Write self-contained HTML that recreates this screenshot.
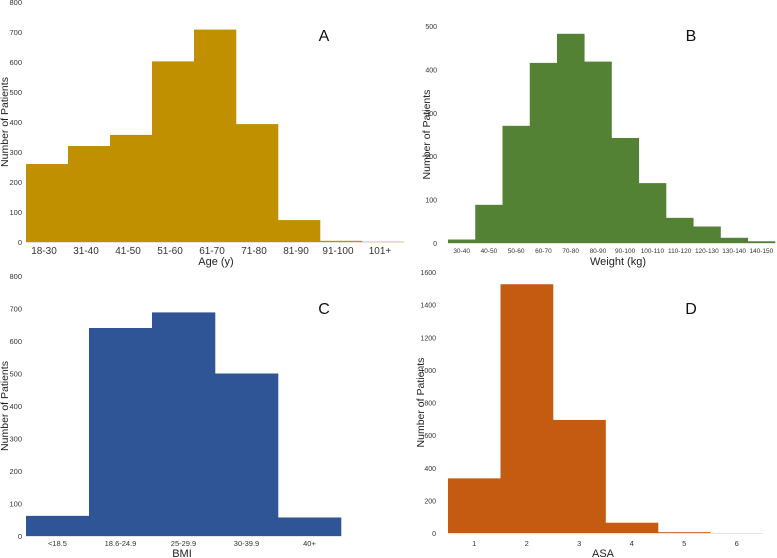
<!DOCTYPE html>
<html><head><meta charset="utf-8">
<style>
html,body{margin:0;padding:0;background:#fff;}
svg{display:block;font-family:"Liberation Sans",Arial,sans-serif;}
</style></head>
<body>
<svg id="chart" width="777" height="558" viewBox="0 0 777 558" xmlns="http://www.w3.org/2000/svg"></svg>
<script>
// Panel A: Age
const ageCats = ["18-30","31-40","41-50","51-60","61-70","71-80","81-90","91-100","101+"];
const ageVals = [260,320,357,602,708,393,73,4,1];
const ageTicks = [0,100,200,300,400,500,600,700,800];
// Panel B: Weight
const wtCats = ["30-40","40-50","50-60","60-70","70-80","80-90","90-100","100-110","110-120","120-130","130-140","140-150"];
const wtVals = [8,88,270,415,482,418,242,138,58,38,12,4];
const wtTicks = [0,100,200,300,400,500];
// Panel C: BMI
const bmiCats = ["<18.5","18.6-24.9","25-29.9","30-39.9","40+"];
const bmiVals = [62,640,688,500,57];
const bmiTicks = [0,100,200,300,400,500,600,700,800];
// Panel D: ASA
const asaCats = ["1","2","3","4","5","6"];
const asaVals = [335,1525,693,63,5,0];
const asaTicks = [0,200,400,600,800,1000,1200,1400,1600];

const svg = document.getElementById('chart');
const NS = "http://www.w3.org/2000/svg";
function mk(tag, attrs, text){
  const e = document.createElementNS(NS, tag);
  for (const k in attrs) e.setAttribute(k, attrs[k]);
  if (text !== undefined) e.textContent = text;
  svg.appendChild(e);
  return e;
}

function panel(p){
  const yMax = p.ticks[p.ticks.length-1];
  const y = v => p.y0 - (v / yMax) * (p.y0 - p.yTop);
  const bw = (p.x1 - p.x0) / p.cats.length;
  const x = i => p.x0 + i * bw;
  const base = mk('line', {x1:p.x0, x2:p.x1, y1:p.y0+0.5, y2:p.y0+0.5, stroke:'#e4e4e4', 'stroke-width':1});
  
  
  p.ticks.forEach(t => {
    const tx = mk('text', {x:p.tickX, y:y(t)+3, 'text-anchor':'end', 'font-size':p.tickFs, fill:'#333'}, t);
    
    
  });
  p.vals.forEach((v, i) => {
    const r = mk('rect', {x:x(i), y:y(v), width:bw+0.3, height:p.y0 - y(v), fill:p.color});
    
    
  });
  p.cats.forEach((c, i) => {
    const tx = mk('text', {x:x(i) + bw/2 + (p.xOff||0), y:p.y0 + p.xLabDy, 'text-anchor':'middle', 'font-size':p.xFs, fill:'#333'}, c);
    
    
  });
  const xt = mk('text', {x:p.xTitleX, y:p.xTitleY, 'text-anchor':'middle', 'font-size':11, fill:'#222'}, p.xTitle);
  
  
  const cy = (p.y0 + p.yTop) / 2;
  const yt = mk('text', {x:p.yTitleX, y:cy, 'text-anchor':'middle', 'font-size':10.5, fill:'#222', transform:`rotate(-90 ${p.yTitleX} ${cy})`}, 'Number of Patients');
  
  
  const pl = mk('text', {x:p.letterX, y:p.letterY, 'text-anchor':'middle', 'font-size':16, fill:'#111'}, p.letter);
  
  
}

panel({key:'age', cats:ageCats, vals:ageVals, ticks:ageTicks, color:'#c09000',
  x0:26, x1:404, y0:242, yTop:2, tickX:22, tickFs:7.5, xFs:10, xLabDy:12, xOff:-3,
  xTitle:'Age (y)', xTitleX:216, xTitleY:265, yTitleX:8, letter:'A', letterX:324, letterY:41});
panel({key:'weight', cats:wtCats, vals:wtVals, ticks:wtTicks, color:'#548235',
  x0:448, x1:775, y0:243, yTop:26, tickX:437, tickFs:7, xFs:6.5, xLabDy:10,
  xTitle:'Weight (kg)', xTitleX:618, xTitleY:265, yTitleX:430, letter:'B', letterX:691, letterY:41});
panel({key:'bmi', cats:bmiCats, vals:bmiVals, ticks:bmiTicks, color:'#2f5597',
  x0:26, x1:341, y0:536, yTop:276, tickX:22, tickFs:7.5, xFs:7.5, xLabDy:10,
  xTitle:'BMI', xTitleX:182, xTitleY:557, yTitleX:8, letter:'C', letterX:324, letterY:314});
panel({key:'asa', cats:asaCats, vals:asaVals, ticks:asaTicks, color:'#c55a11',
  x0:448, x1:763, y0:533, yTop:272, tickX:436, tickFs:7, xFs:7.5, xLabDy:13,
  xTitle:'ASA', xTitleX:603, xTitleY:557, yTitleX:424, letter:'D', letterX:691, letterY:314});
</script>
</body></html>
